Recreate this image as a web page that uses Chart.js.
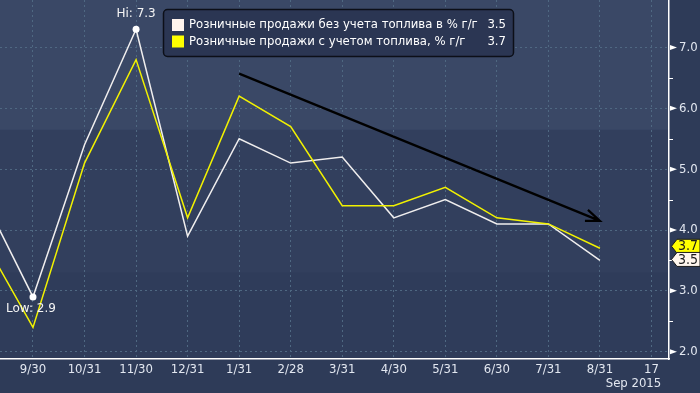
<!DOCTYPE html>
<html>
<head>
<meta charset="utf-8">
<script src="https://cdn.jsdelivr.net/npm/chart.js@4"></script>
<style>
  html, body { margin: 0; padding: 0; background: #2e3b58; }
  #wrap { width: 700px; height: 393px; position: relative; }
</style>
</head>
<body>
<div id="wrap"><canvas id="chart" width="700" height="393"></canvas></div>
<script>
// Data (monthly, x index 0 = 8/31/2014, off the left edge)
const tickLabels = ['9/30', '10/31', '11/30', '12/31', '1/31', '2/28', '3/31', '4/30', '5/31', '6/30', '7/31', '8/31', '17'];
const tickIndex = [1, 2, 3, 4, 5, 6, 7, 8, 9, 10, 11, 12, 13];
const pointIndex = [0, 1, 2, 3, 4, 5, 6, 7, 8, 9, 10, 11, 12];
const exFuel = [4.6, 2.9, 5.4, 7.3, 3.9, 5.5, 5.1, 5.2, 4.2, 4.5, 4.1, 4.1, 3.5];
const withFuel = [3.9, 2.4, 5.1, 6.8, 4.2, 6.2, 5.7, 4.4, 4.4, 4.7, 4.2, 4.1, 3.7];
const yTicks = [2, 3, 4, 5, 6, 7];
const seriesNames = ['Розничные продажи без учета топлива в % г/г', 'Розничные продажи с учетом топлива, % г/г'];
const trendArrow = [[5, 6.57], [12, 4.15]];

const WHITE = '#f0eeee';
const YELLOW = '#f2f200';
const AXIS_FONT = '"DejaVu Sans Condensed", "Liberation Sans Narrow", "DejaVu Sans", sans-serif';
const TEXT_FONT = '"DejaVu Sans", sans-serif';

const hiIdx = exFuel.indexOf(Math.max(...exFuel));
const loIdx = exFuel.indexOf(Math.min(...exFuel));

const toPoints = (vals) => pointIndex.map((x, i) => ({ x: x, y: vals[i] }));

const decorPlugin = {
  id: 'decor',
  beforeDraw(chart) {
    const { ctx, chartArea: a } = chart;
    ctx.save();
    ctx.fillStyle = '#2e3b58';
    ctx.fillRect(0, 0, chart.width, chart.height);
    const h = a.bottom - a.top;
    ctx.fillStyle = '#3a4866';
    ctx.fillRect(a.left, a.top, a.right - a.left, h * 0.362);
    ctx.fillStyle = '#323f5d';
    ctx.fillRect(a.left, a.top + h * 0.362, a.right - a.left, h * 0.398);
    ctx.fillStyle = '#2f3c5a';
    ctx.fillRect(a.left, a.top + h * 0.76, a.right - a.left, h * 0.24);
    ctx.restore();
  },
  afterDatasetsDraw(chart) {
    const { ctx, chartArea: a, scales: { x, y } } = chart;
    ctx.save();

    // trend arrow
    const x1 = x.getPixelForValue(trendArrow[0][0]), y1 = y.getPixelForValue(trendArrow[0][1]);
    const x2 = x.getPixelForValue(trendArrow[1][0]), y2 = y.getPixelForValue(trendArrow[1][1]);
    ctx.strokeStyle = '#000';
    ctx.lineWidth = 2.2;
    ctx.beginPath();
    ctx.moveTo(x1, y1);
    ctx.lineTo(x2, y2);
    ctx.moveTo(x2 - 12, y2 - 11);
    ctx.lineTo(x2, y2);
    ctx.lineTo(x2 - 15, y2);
    ctx.stroke();

    // hi / low labels
    ctx.fillStyle = '#f4f4f4';
    ctx.font = '12px ' + TEXT_FONT;
    ctx.textBaseline = 'middle';
    ctx.textAlign = 'center';
    ctx.fillText('Hi: ' + exFuel[hiIdx].toFixed(1), x.getPixelForValue(pointIndex[hiIdx]), y.getPixelForValue(exFuel[hiIdx]) - 15);
    ctx.textAlign = 'left';
    ctx.fillText('Low: ' + exFuel[loIdx].toFixed(1), 6, y.getPixelForValue(exFuel[loIdx]) + 12);

    // legend box
    ctx.fillStyle = '#2b3653';
    ctx.strokeStyle = '#0c0f18';
    ctx.lineWidth = 1.5;
    ctx.beginPath();
    ctx.roundRect(163.5, 9.5, 350, 47, 4);
    ctx.fill();
    ctx.stroke();
    const rows = [[seriesNames[0], exFuel, '#fff4ee', 25], [seriesNames[1], withFuel, '#ffff00', 41.5]];
    ctx.font = '11.7px ' + TEXT_FONT;
    rows.forEach(([name, vals, col, cy]) => {
      ctx.fillStyle = col;
      ctx.fillRect(172, cy - 6, 12, 12);
      ctx.fillStyle = '#ffffff';
      ctx.textAlign = 'left';
      ctx.fillText(name, 189, cy);
      ctx.textAlign = 'right';
      ctx.fillText(vals[vals.length - 1].toFixed(1), 506, cy);
    });

    // right axis marks
    ctx.fillStyle = '#ffffff';
    ctx.strokeStyle = '#ffffff';
    ctx.lineWidth = 1;
    yTicks.forEach(v => {
      const py = y.getPixelForValue(v);
      ctx.beginPath();
      ctx.moveTo(670, py - 2.5);
      ctx.lineTo(677, py);
      ctx.lineTo(670, py + 2.5);
      ctx.closePath();
      ctx.fill();
      if (v < 7) {
        const my = Math.round(y.getPixelForValue(v + 0.5)) + 0.5;
        ctx.beginPath();
        ctx.moveTo(669, my);
        ctx.lineTo(673, my);
        ctx.stroke();
      }
    });

    // last value tags
    const tag = (val, cy, fill) => {
      ctx.fillStyle = fill;
      ctx.strokeStyle = '#1a1a1a';
      ctx.lineWidth = 1;
      ctx.beginPath();
      ctx.moveTo(671.5, cy);
      ctx.lineTo(677, cy - 7);
      ctx.lineTo(700, cy - 7);
      ctx.lineTo(700, cy + 7);
      ctx.lineTo(677, cy + 7);
      ctx.closePath();
      ctx.fill();
      ctx.stroke();
      ctx.fillStyle = '#1b1b1b';
      ctx.font = '14px ' + AXIS_FONT;
      ctx.textAlign = 'left';
      ctx.fillText(val.toFixed(1), 678, cy + 0.5);
    };
    const lastW = exFuel[exFuel.length - 1], lastY = withFuel[withFuel.length - 1];
    tag(lastY, y.getPixelForValue(lastY) - 2, '#ffff00');
    tag(lastW, y.getPixelForValue(lastW) - 1, '#fff6ee');

    // date caption
    ctx.fillStyle = '#e2e7f0';
    ctx.font = '13px ' + AXIS_FONT;
    ctx.textAlign = 'center';
    ctx.fillText('Sep 2015', x.getPixelForValue(tickIndex[tickIndex.length - 1]) - 18, 384);

    ctx.restore();
  }
};

new Chart(document.getElementById('chart'), {
  type: 'line',
  data: {
    datasets: [
      {
        label: seriesNames[1],
        data: toPoints(withFuel),
        borderColor: YELLOW,
        borderWidth: 1.5,
        pointRadius: 0,
        tension: 0
      },
      {
        label: seriesNames[0],
        data: toPoints(exFuel),
        borderColor: WHITE,
        borderWidth: 1.5,
        pointRadius: (c) => (c.dataIndex === hiIdx || c.dataIndex === loIdx) ? 3.5 : 0,
        pointBackgroundColor: '#ffffff',
        pointBorderWidth: 0,
        tension: 0
      }
    ]
  },
  options: {
    responsive: false,
    animation: false,
    maintainAspectRatio: false,
    layout: { padding: 0 },
    plugins: { legend: { display: false }, tooltip: { enabled: false } },
    scales: {
      x: {
        type: 'linear',
        min: 0.36,
        max: 13.34,
        afterBuildTicks: (s) => { s.ticks = tickIndex.map(v => ({ value: v })); },
        afterFit: (s) => { s.height = 34; s.paddingLeft = 0; s.paddingRight = 0; },
        ticks: {
          autoSkip: false,
          maxRotation: 0,
          padding: 3,
          color: '#e2e7f0',
          font: { family: AXIS_FONT, size: 13 },
          callback: (v) => tickLabels[tickIndex.indexOf(v)]
        },
        grid: { color: '#4f6882', lineWidth: 1, drawTicks: false },
        border: { display: true, color: '#ffffff', width: 1.5, dash: [2, 3] }
      },
      y: {
        position: 'right',
        min: 1.88,
        max: 7.78,
        afterBuildTicks: (s) => { s.ticks = yTicks.map(v => ({ value: v })); },
        afterFit: (s) => { s.width = 31; s.paddingTop = 0; s.paddingBottom = 0; },
        ticks: {
          padding: 10,
          color: '#e2e7f0',
          font: { family: AXIS_FONT, size: 13 },
          callback: (v) => v.toFixed(1)
        },
        grid: { color: '#4f6882', lineWidth: 1, drawTicks: false },
        border: { display: true, color: '#ffffff', width: 1.5, dash: [2, 3] }
      }
    }
  },
  plugins: [decorPlugin]
});
</script>
</body>
</html>
